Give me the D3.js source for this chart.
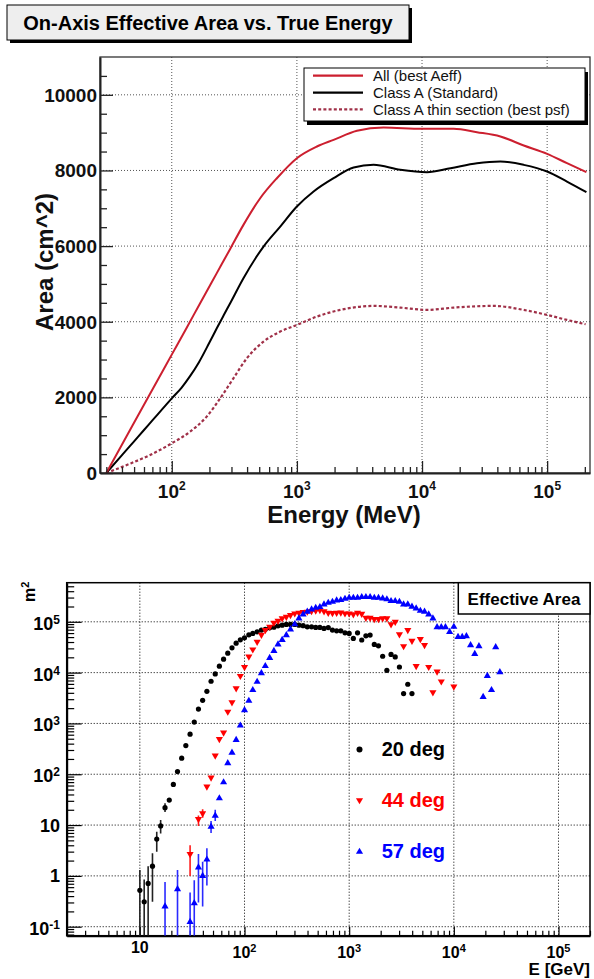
<!DOCTYPE html>
<html><head><meta charset="utf-8">
<script src="https://cdn.jsdelivr.net/npm/d3@7"></script>
<style>
body{margin:0;background:#fff}
svg{display:block}
text{font-family:"Liberation Sans",Arial,Helvetica,sans-serif}
</style>
</head><body>
<svg id="c" width="594" height="979"></svg>
<script>
// ================= TOP CHART DATA =================
const topTitle = "On-Axis Effective Area vs. True Energy";
const topSeriesNames = ["All (best Aeff)", "Class A (Standard)", "Class A thin section (best psf)"];
const allEnergy = [30, 49.3, 67.1, 100, 132, 169, 229, 293, 374, 509, 692, 1000, 1445, 1965, 3020, 4930, 10000, 17900, 27500, 42300, 65000, 100000, 144000, 206000];
const allArea   = [0, 1293, 2095, 3130, 3850, 4496, 5285, 5925, 6561, 7266, 7795, 8325, 8633, 8810, 9048, 9136, 9100, 9100, 9012, 8898, 8660, 8439, 8192, 7954];
const classAEnergy = [30, 40, 50, 60, 70, 85, 100, 120, 140, 165, 200, 229, 260, 293, 374, 541, 736, 1000, 1360, 1965, 2840, 4100, 6710, 10960, 16900, 27500, 42300, 65000, 100000, 144000, 206000];
const classAArea   = [0, 472, 838, 1137, 1390, 1708, 1975, 2260, 2560, 2930, 3450, 3827, 4170, 4489, 5150, 5988, 6517, 7046, 7443, 7795, 8078, 8148, 8016, 7954, 8060, 8192, 8236, 8148, 7972, 7707, 7425];
const thinEnergy = [30, 43.7, 67.1, 100, 140, 190, 244, 311, 398, 541, 736, 1000, 1445, 2220, 4100, 6710, 10960, 17900, 37400, 65000, 100000, 144000, 203000];
const thinArea   = [0, 212, 476, 785, 1093, 1490, 1975, 2504, 3034, 3474, 3739, 3915, 4136, 4312, 4418, 4374, 4312, 4374, 4418, 4312, 4180, 4048, 3933];
const topYTickValues = [0, 2000, 4000, 6000, 8000, 10000];
const topYTickLabels = ["0", "2000", "4000", "6000", "8000", "10000"];
const topXTickValues = [1e2, 1e3, 1e4, 1e5];
const topXTickBase = ["10", "10", "10", "10"];
const topXTickSup = ["2", "3", "4", "5"];
const topXLabel = "Energy (MeV)";
const topYLabel = "Area (cm^2)";

// ================= BOTTOM CHART DATA =================
const deg20Energy = [10.0, 11.0, 12.0, 13.2, 14.5, 15.8, 17.4, 19.1, 20.9, 22.9, 25.1, 27.5, 30.2, 33.1, 36.3, 39.8, 43.7, 47.9, 52.5, 57.5, 63.1, 69.2, 75.9, 83.2, 91.2, 100, 110, 120, 132, 145, 158, 174, 191, 209, 229, 251, 275, 302, 331, 363, 398, 437, 479, 525, 575, 631, 692, 759, 832, 912, 1000, 1096, 1202, 1318, 1445, 1585, 1738, 1905, 2089, 2291, 2512, 2754, 3020, 3311, 3631, 3981];
const deg20Area = [0.52, 0.31, 0.71, 1.55, 5.3, 9.6, 22, 31, 63, 113, 207, 366, 615, 1065, 1920, 2850, 4280, 6760, 9420, 13400, 18400, 24100, 30700, 38000, 44200, 48400, 55400, 59000, 63500, 68600, 71000, 76200, 78500, 83400, 86000, 88900, 88900, 88900, 86000, 83800, 79600, 79600, 77500, 77500, 74000, 77000, 68600, 66500, 66500, 60700, 59000, 47000, 60700, 43800, 53000, 54700, 35800, 33700, 21000, 11100, 22800, 20400, 12900, 3870, 5900, 3870];
const deg44Energy = [30.2, 36.3, 39.8, 43.7, 47.9, 52.5, 57.5, 63.1, 69.2, 75.9, 83.2, 91.2, 100, 110, 120, 132, 145, 158, 174, 191, 209, 229, 251, 275, 302, 331, 363, 398, 437, 479, 525, 575, 631, 692, 759, 832, 912, 1000, 1096, 1202, 1318, 1445, 1585, 1738, 1905, 2089, 2291, 2512, 2754, 3020, 3311, 3631, 3981, 4365, 4786, 5248, 5754, 6310, 6918, 7586, 10000];
const deg44Area = [2.68, 13.1, 17, 57, 86, 233, 490, 661, 1700, 2590, 4920, 8600, 12800, 20700, 28500, 40300, 55400, 68600, 79700, 95600, 104500, 117000, 125000, 136000, 146000, 150000, 155000, 158000, 163000, 165000, 170000, 160000, 150000, 148000, 150000, 152000, 146000, 146000, 140000, 150000, 143000, 120000, 120000, 113000, 113000, 117000, 117000, 89000, 100000, 56500, 33100, 68600, 42200, 13400, 45500, 34700, 12900, 4100, 10500, 6700, 5300];
const deg57Energy = [17.4, 22.9, 30.2, 33.1, 36.3, 39.8, 43.7, 47.9, 52.5, 57.5, 63.1, 69.2, 75.9, 83.2, 91.2, 100, 110, 120, 132, 145, 158, 174, 191, 209, 229, 251, 275, 302, 331, 363, 398, 437, 479, 525, 575, 631, 692, 759, 832, 912, 1000, 1096, 1202, 1318, 1445, 1585, 1738, 1905, 2089, 2291, 2512, 2754, 3020, 3311, 3631, 3981, 4365, 4786, 5248, 5754, 6310, 6918, 7586, 8318, 9120, 10000, 10965, 12023, 13183, 14454, 15849, 17378, 19055, 20893, 22909, 25119, 27542];
const deg57Area = [0.25, 0.55, 0.124, 0.29, 1.47, 1.0, 2.1, 9.3, 15.3, 33.6, 69.5, 165, 267, 475, 910, 1830, 2790, 4540, 6600, 9730, 13500, 19500, 26800, 35800, 44000, 54700, 70800, 90000, 117000, 140000, 158000, 176000, 189000, 195000, 220000, 237000, 248000, 264000, 268000, 284000, 297000, 297000, 297000, 307000, 307000, 307000, 297000, 297000, 289000, 277000, 256000, 256000, 248000, 220000, 220000, 198000, 184000, 165000, 158000, 140000, 117000, 78600, 78600, 78600, 63500, 79700, 50600, 50600, 52200, 34700, 23400, 33200, 3330, 8600, 4540, 31700, 10200];
// error bars: [energy, low, high]
const deg20Err = [[10.0, 0.01, 1.3], [11.0, 0.01, 0.85], [12.0, 0.01, 1.55], [13.2, 0.31, 2.8], [14.5, 3.0, 7.4], [15.8, 6.8, 12.6], [17.4, 18, 27]];
const deg44Err = [[30.2, 1.0, 4.0], [36.3, 9.6, 15.5], [39.8, 14, 20.5]];
const deg57Err = [[17.4, 0.01, 0.76], [22.9, 0.01, 1.3], [30.2, 0.01, 0.47], [33.1, 0.01, 0.82], [36.3, 0.3, 2.7], [39.8, 0.25, 1.9], [43.7, 0.65, 3.5], [47.9, 7, 12], [52.5, 12, 20]];
const botSeriesNames = ["20 deg", "44 deg", "57 deg"];
const botYTickValues = [0.1, 1, 10, 100, 1e3, 1e4, 1e5];
const botYTickBase = ["10", "1", "10", "10", "10", "10", "10"];
const botYTickSup = ["-1", "", "", "2", "3", "4", "5"];
const botXTickValues = [10, 100, 1e3, 1e4, 1e5];
const botXTickBase = ["10", "10", "10", "10", "10"];
const botXTickSup = ["", "2", "3", "4", "5"];
const botTitle = "Effective Area";
const botXLabel = "E [GeV]";

// ================= DRAWING =================
const svg = d3.select("#c");
const defs = svg.append("defs");

// ---- Title box ----
svg.append("rect").attr("x", 10).attr("y", 8).attr("width", 402).attr("height", 35).attr("fill", "#000");
svg.append("rect").attr("x", 7).attr("y", 5).attr("width", 402).attr("height", 35)
  .attr("fill", "#eeeeee").attr("stroke", "#000").attr("stroke-width", 1);
svg.append("text").attr("x", 208).attr("y", 30).attr("text-anchor", "middle")
  .attr("font-size", 20).attr("font-weight", "bold").text(topTitle);

// ---- Top chart ----
const T = {l: 100, r: 590, t: 57, b: 473};
const tx = d3.scaleLog().domain([26.7, 2.2e5]).range([T.l, T.r]);
const ty = d3.scaleLinear().domain([0, 11000]).range([T.b, T.t]);

defs.append("clipPath").attr("id", "clipTop").append("rect")
  .attr("x", T.l).attr("y", T.t).attr("width", T.r - T.l).attr("height", T.b - T.t);

const topG = svg.append("g");
// grid
topG.selectAll("line.gx").data(topXTickValues).join("line")
  .attr("x1", d => tx(d)).attr("x2", d => tx(d)).attr("y1", T.t).attr("y2", T.b)
  .attr("stroke", "#555").attr("stroke-width", 1).attr("stroke-dasharray", "1,2");
topG.selectAll("line.gy").data(topYTickValues.filter(v => v > 0)).join("line")
  .attr("x1", T.l).attr("x2", T.r).attr("y1", d => ty(d)).attr("y2", d => ty(d))
  .attr("stroke", "#555").attr("stroke-width", 1).attr("stroke-dasharray", "1,2");

// frame
topG.append("rect").attr("x", T.l).attr("y", T.t).attr("width", T.r - T.l).attr("height", T.b - T.t)
  .attr("fill", "none").attr("stroke", "#333").attr("stroke-width", 1.3);

// curves
const tline = d3.line().x(d => tx(d[0])).y(d => ty(d[1])).curve(d3.curveMonotoneX);
const curves = topG.append("g").attr("clip-path", "url(#clipTop)");
curves.append("path").datum(d3.zip(thinEnergy, thinArea)).attr("d", tline)
  .attr("fill", "none").attr("stroke", "#a03048").attr("stroke-width", 2.2).attr("stroke-dasharray", "3,2.2");
curves.append("path").datum(d3.zip(classAEnergy, classAArea)).attr("d", tline)
  .attr("fill", "none").attr("stroke", "#000").attr("stroke-width", 2);
curves.append("path").datum(d3.zip(allEnergy, allArea)).attr("d", tline)
  .attr("fill", "none").attr("stroke", "#cc1f2f").attr("stroke-width", 2);

// axes
const yMinorTop = d3.range(500, 11000, 500).filter(v => v % 2000 !== 0);
const axLT = topG.append("g").attr("transform", `translate(${T.l},0)`)
  .call(d3.axisLeft(ty).tickValues(topYTickValues).tickSize(-13).tickSizeOuter(0).tickFormat(() => ""));
topG.append("g").attr("transform", `translate(${T.l},0)`)
  .call(d3.axisLeft(ty).tickValues(yMinorTop).tickSize(-7).tickSizeOuter(0).tickFormat(() => ""))
  .call(g => g.select(".domain").remove());
const xMinorTop = tx.ticks().filter(v => !topXTickValues.includes(v));
const axBT = topG.append("g").attr("transform", `translate(0,${T.b})`)
  .call(d3.axisBottom(tx).tickValues(topXTickValues).tickSize(-12).tickSizeOuter(0).tickFormat(() => ""));
topG.append("g").attr("transform", `translate(0,${T.b})`)
  .call(d3.axisBottom(tx).tickValues(xMinorTop).tickSize(-6).tickSizeOuter(0).tickFormat(() => ""))
  .call(g => g.select(".domain").remove());
topG.selectAll(".tick line").attr("stroke", "#222").attr("stroke-width", 1.3);
[axLT, axBT].forEach(a => a.select(".domain").attr("stroke", "#222").attr("stroke-width", 2));

// tick labels
topG.selectAll("text.yl").data(topYTickValues).join("text")
  .attr("x", 97).attr("y", d => ty(d)).attr("dy", "0.36em").attr("text-anchor", "end")
  .attr("font-size", 19).attr("font-weight", "bold").attr("fill", "#111")
  .text((d, i) => topYTickLabels[i]);
topXTickValues.forEach((v, i) => {
  const t = topG.append("text").attr("x", tx(v)).attr("y", 498).attr("text-anchor", "middle")
    .attr("font-size", 19).attr("font-weight", "bold").attr("fill", "#111");
  t.append("tspan").text(topXTickBase[i]);
  t.append("tspan").attr("font-size", 12).attr("dy", -8).text(topXTickSup[i]);
});
// axis titles
topG.append("text").attr("x", 344).attr("y", 523).attr("text-anchor", "middle")
  .attr("font-size", 24).attr("font-weight", "bold").attr("fill", "#111").text(topXLabel);
topG.append("text").attr("transform", "translate(53,262) rotate(-90)").attr("text-anchor", "middle")
  .attr("font-size", 24).attr("font-weight", "bold").attr("fill", "#111").text(topYLabel);

// legend
const LG = {x: 304, y: 68, w: 281, h: 53};
topG.append("rect").attr("x", LG.x + 3).attr("y", LG.y + 4).attr("width", LG.w).attr("height", LG.h).attr("fill", "#000");
topG.append("rect").attr("x", LG.x).attr("y", LG.y).attr("width", LG.w).attr("height", LG.h)
  .attr("fill", "#fff").attr("stroke", "#000").attr("stroke-width", 1);
const legStyles = [
  {stroke: "#cc1f2f", dash: null},
  {stroke: "#000", dash: null},
  {stroke: "#a03048", dash: "3,2.2"}
];
const legRows = [75.7, 92.7, 109.3];
topSeriesNames.forEach((n, i) => {
  topG.append("line").attr("x1", 313).attr("x2", 363).attr("y1", legRows[i]).attr("y2", legRows[i])
    .attr("stroke", legStyles[i].stroke).attr("stroke-width", 2.2)
    .attr("stroke-dasharray", legStyles[i].dash);
  topG.append("text").attr("x", 373).attr("y", legRows[i]).attr("dy", "0.36em")
    .attr("font-size", 15).attr("fill", "#111").text(n);
});

// ---- Bottom chart ----
const B = {l: 66.7, r: 590, t: 582.7, b: 935.7};
const bx = d3.scaleLog().domain([2, 2e5]).range([B.l, B.r]);
const by = d3.scaleLog().domain([0.0665, 5.88e5]).range([B.b, B.t]);
defs.append("clipPath").attr("id", "clipBot").append("rect")
  .attr("x", B.l).attr("y", B.t).attr("width", B.r - B.l).attr("height", B.b - B.t);

const botG = svg.append("g");
botG.selectAll("line.gx").data(botXTickValues).join("line")
  .attr("x1", d => bx(d)).attr("x2", d => bx(d)).attr("y1", B.t).attr("y2", B.b)
  .attr("stroke", "#000").attr("stroke-width", 1).attr("stroke-dasharray", "1,2");
botG.selectAll("line.gy").data(botYTickValues).join("line")
  .attr("x1", B.l).attr("x2", B.r).attr("y1", d => by(d)).attr("y2", d => by(d))
  .attr("stroke", "#000").attr("stroke-width", 1).attr("stroke-dasharray", "1,2");

// axes
const yMinorBot = by.ticks().filter(v => !botYTickValues.some(m => Math.abs(m - v) / m < 1e-6));
const axLB = botG.append("g").attr("transform", `translate(${B.l},0)`)
  .call(d3.axisLeft(by).tickValues(botYTickValues).tickSize(-15).tickSizeOuter(0).tickFormat(() => ""));
botG.append("g").attr("transform", `translate(${B.l},0)`)
  .call(d3.axisLeft(by).tickValues(yMinorBot).tickSize(-7.5).tickSizeOuter(0).tickFormat(() => ""))
  .call(g => g.select(".domain").remove());
const xMinorBot = bx.ticks().filter(v => !botXTickValues.some(m => Math.abs(m - v) / m < 1e-6));
const axBB = botG.append("g").attr("transform", `translate(0,${B.b})`)
  .call(d3.axisBottom(bx).tickValues(botXTickValues).tickSize(-9).tickSizeOuter(0).tickFormat(() => ""));
botG.append("g").attr("transform", `translate(0,${B.b})`)
  .call(d3.axisBottom(bx).tickValues(xMinorBot).tickSize(-5).tickSizeOuter(0).tickFormat(() => ""))
  .call(g => g.select(".domain").remove());
botG.selectAll(".tick line").attr("stroke", "#000").attr("stroke-width", 1.2);
[axLB, axBB].forEach(a => a.select(".domain").attr("stroke", "#000").attr("stroke-width", 2));
botG.append("rect").attr("x", B.l).attr("y", B.t).attr("width", B.r - B.l).attr("height", B.b - B.t)
  .attr("fill", "none").attr("stroke", "#000").attr("stroke-width", 1.5);

// tick labels
botYTickValues.forEach((v, i) => {
  const hasSup = botYTickSup[i] !== "";
  const t = botG.append("text").attr("x", 60).attr("y", by(v) + (hasSup ? 8 : 6.5)).attr("text-anchor", "end")
    .attr("font-size", 18).attr("font-weight", "bold").attr("fill", "#000");
  t.append("tspan").text(botYTickBase[i]);
  if (hasSup) t.append("tspan").attr("font-size", 12).attr("dy", -6).text(botYTickSup[i]);
});
botXTickValues.forEach((v, i) => {
  const hasSup = botXTickSup[i] !== "";
  const t = botG.append("text").attr("x", bx(v)).attr("y", hasSup ? 958.3 : 953).attr("text-anchor", "middle")
    .attr("font-size", 16).attr("font-weight", "bold").attr("fill", "#000");
  t.append("tspan").text(botXTickBase[i]);
  if (hasSup) t.append("tspan").attr("font-size", 11).attr("dy", -6.6).text(botXTickSup[i]);
});
botG.append("text").attr("x", 590).attr("y", 975).attr("text-anchor", "end")
  .attr("font-size", 17).attr("font-weight", "bold").text(botXLabel);
const mt = botG.append("text").attr("transform", "translate(35,602) rotate(-90)")
  .attr("font-size", 16).attr("font-weight", "bold");
mt.append("tspan").text("m");
mt.append("tspan").attr("font-size", 11).attr("dy", -6).text("2");

// data
const pts = botG.append("g").attr("clip-path", "url(#clipBot)");
const yLo = v => by(Math.max(v, by.domain()[0]));
function errBars(data, color) {
  pts.selectAll(null).data(data).join("line")
    .attr("x1", d => bx(d[0])).attr("x2", d => bx(d[0]))
    .attr("y1", d => yLo(d[1])).attr("y2", d => by(d[2]))
    .attr("stroke", color).attr("stroke-width", 1.6);
}
errBars(deg20Err, "#222");
errBars(deg44Err, "#ff1a1a");
errBars(deg57Err, "#2a2aff");

const triUp = d3.symbol().type(d3.symbolTriangle).size(22);
pts.selectAll(null).data(d3.zip(deg20Energy, deg20Area)).join("circle")
  .attr("cx", d => bx(d[0])).attr("cy", d => by(d[1])).attr("r", 2.6).attr("fill", "#000");
pts.selectAll(null).data(d3.zip(deg44Energy, deg44Area)).join("path")
  .attr("d", triUp).attr("transform", d => `translate(${bx(d[0])},${by(d[1])}) rotate(180)`).attr("fill", "#ff0000");
pts.selectAll(null).data(d3.zip(deg57Energy, deg57Area)).join("path")
  .attr("d", triUp).attr("transform", d => `translate(${bx(d[0])},${by(d[1])})`).attr("fill", "#0000ff");

// "Effective Area" box
botG.append("rect").attr("x", 458.3).attr("y", B.t).attr("width", B.r - 458.3).attr("height", 31.3)
  .attr("fill", "#fff").attr("stroke", "#000").attr("stroke-width", 1.5);
botG.append("text").attr("x", 524).attr("y", 605).attr("text-anchor", "middle")
  .attr("font-size", 17).attr("font-weight", "bold").text(botTitle);

// legend
const legColors = ["#000", "#ff0000", "#0000ff"];
const legBase = [756, 806.7, 858.3];
botSeriesNames.forEach((n, i) => {
  const my = legBase[i] - 6.5, mx = 359.5;
  if (i === 0) botG.append("circle").attr("cx", mx).attr("cy", my).attr("r", 3).attr("fill", legColors[i]);
  else botG.append("path").attr("d", triUp)
    .attr("transform", `translate(${mx},${my})` + (i === 1 ? " rotate(180)" : "")).attr("fill", legColors[i]);
  botG.append("text").attr("x", 381.7).attr("y", legBase[i]).attr("font-size", 20).attr("font-weight", "bold")
    .attr("fill", legColors[i]).text(n);
});
</script>
</body></html>
